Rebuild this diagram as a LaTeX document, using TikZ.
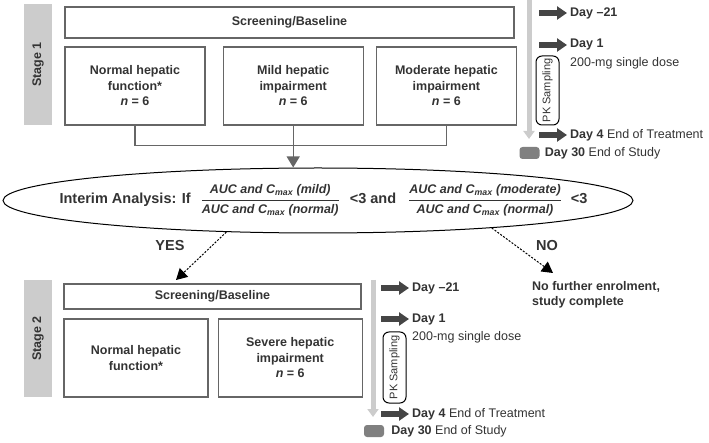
\documentclass[tikz,border=0pt]{standalone}
\usepackage{fontspec}
\setmainfont{Liberation Sans}
\usepackage{amsmath}
\usetikzlibrary{arrows.meta, positioning, shapes.geometric}
\definecolor{textgray}{rgb}{0.2,0.2,0.2}
\definecolor{boxgray}{rgb}{0.4,0.4,0.4}
\definecolor{bargray}{rgb}{0.8,0.8,0.8}
\definecolor{arrowgray}{rgb}{0.27,0.27,0.27}
\definecolor{squaregray}{rgb}{0.5,0.5,0.5}
\newcommand{\aucratio}[1]{$\dfrac{\text{\fontsize{12.5}{14}\selectfont\itshape AUC and C\textsubscript{max} (#1)}}{\text{\fontsize{12.5}{14}\selectfont\itshape AUC and C\textsubscript{max} (normal)}}$}
\tikzset{
    every node/.style={text=textgray}, % Dark gray text everywhere
    box/.style={draw=boxgray, line width=1.2pt, inner sep=0pt, align=center,
        font=\bfseries\fontsize{12.5}{15.5}\selectfont}, % Study boxes
    group/.style={box, minimum width=140pt, minimum height=78pt}, % Patient groups
    stagebar/.style={fill=bargray, rotate=90, minimum height=28pt, inner sep=0pt,
        font=\bfseries\fontsize{12.5}{15}\selectfont}, % Stage labels
    pkbox/.style={draw=black, line width=1pt, rounded corners=6pt, rotate=90,
        minimum height=23pt, inner sep=0pt, font=\fontsize{11}{13}\selectfont}, % PK sampling
    pkline/.style={draw=bargray, line width=5pt, -{Triangle[width=11pt,length=8pt]}}, % Time axis
    dayarrow/.style={draw=arrowgray, line width=6.5pt, -{Triangle[width=13pt,length=10pt]}}, % Visit arrows
    daytext/.style={anchor=west, inner sep=0pt, font=\fontsize{12.5}{15}\selectfont}, % Visit labels
    endsquare/.style={fill=squaregray, rounded corners=3pt, minimum width=20pt,
        minimum height=12pt, inner sep=0pt}, % End of study mark
    link/.style={draw=boxgray, line width=1.2pt}, % Group connectors
    decision/.style={draw=black, line width=1pt, dash pattern=on 2pt off 1.5pt,
        -{Triangle[width=12pt,length=11pt]}}, % Interim outcomes
    answer/.style={font=\bfseries\fontsize{14.5}{17}\selectfont, inner sep=0pt}, % YES / NO
}
\begin{document}
\begin{tikzpicture}[x=1pt, y=-1pt]
    \useasboundingbox (0,0) rectangle (709,443);

    % Stage 1
    \node[stagebar, minimum width=121pt] (stage1) at (38,64.5) {Stage 1};
    \node[box, minimum width=449pt, minimum height=31pt] (screen1) at (289.5,22.5) {Screening/Baseline};
    \node[group] (normal1) at (135,86) {Normal hepatic\\function*\\\textit{n} = 6};
    \node[group, right=17pt of normal1] (mild1) {Mild hepatic\\impairment\\\textit{n} = 6};
    \node[group, right=12pt of mild1] (moderate1) {Moderate hepatic\\impairment\\\textit{n} = 6};

    \coordinate (pk1top) at (529,0);
    \coordinate (pk1end) at (529,139);
    \draw[pkline] (pk1top) -- (pk1end);
    \node[pkbox, minimum width=69pt] (pk1) at (547.5,90.5) {PK Sampling};

    \node[daytext] (d1a) at (570,13) {\textbf{Day –21}};
    \node[daytext] (d1b) at (570,45) {\textbf{Day 1}};
    \node[daytext] (d1c) at (570,63) {200-mg single dose};
    \node[daytext] (d1d) at (570,135) {\textbf{Day 4} End of Treatment};
    \node[endsquare] (sq1) at (529.5,153) {};
    \node[daytext, right=5pt of sq1] (d1e) {\textbf{Day 30} End of Study};

    % Interim analysis
    \node[ellipse, draw=black, line width=1pt, minimum width=630pt, minimum height=65pt,
        inner sep=0pt] (interim) at (318,200.5) {};
    \node[font=\bfseries\fontsize{14.5}{17}\selectfont, inner sep=0pt] (interimtext) at (323.5,200.5)
        {Interim Analysis: If\hspace{10pt}\aucratio{mild}\hspace{10pt}<3 and\hspace{12pt}\aucratio{moderate}\hspace{9pt}<3};

    \draw[link] (normal1.south) -- ++(0,20) -| (moderate1.south);
    \draw[link, -{Triangle[width=13pt,length=11pt]}] (mild1.south) -- (mild1.south |- interim.north);

    \node[answer] (yes) at (170,246) {YES};
    \node[answer] (no) at (547,246) {NO};
    \coordinate (yesend) at (176,280);
    \coordinate (noend) at (553,273);
    \draw[decision] (interim.199) -- (yesend);
    \draw[decision] (interim.-9) -- (noend);
    \node[anchor=north west, align=left, inner sep=0pt,
        font=\bfseries\fontsize{12.5}{15}\selectfont] (nofurther) at (532,281)
        {No further enrolment,\\study complete};

    % Stage 2
    \node[stagebar, minimum width=117pt] (stage2) at (38,338.5) {Stage 2};
    \node[box, minimum width=297pt, minimum height=25pt] (screen2) at (212.5,296.5) {Screening/Baseline};
    \node[group, minimum width=144pt] (normal2) at (136,358) {Normal hepatic\\function*};
    \node[group, minimum width=144pt, right=9pt of normal2] (severe2) {Severe hepatic\\impairment\\\textit{n} = 6};

    \coordinate (pk2top) at (373,280);
    \coordinate (pk2end) at (373,417);
    \draw[pkline] (pk2top) -- (pk2end);
    \node[pkbox, minimum width=71pt] (pk2) at (394.5,367.5) {PK Sampling};

    \node[daytext] (d2a) at (412,288) {\textbf{Day –21}};
    \node[daytext] (d2b) at (412,319) {\textbf{Day 1}};
    \node[daytext] (d2c) at (412,337) {200-mg single dose};
    \node[daytext] (d2d) at (412,414) {\textbf{Day 4} End of Treatment};
    \node[endsquare] (sq2) at (374,431) {};
    \node[daytext, right=7pt of sq2] (d2e) {\textbf{Day 30} End of Study};

    \foreach \d in {d1a, d1b, d1d, d2a, d2b, d2d}
        \draw[dayarrow] ([xshift=-31pt]\d.west) -- ([xshift=-3pt]\d.west);
\end{tikzpicture}
\end{document}
